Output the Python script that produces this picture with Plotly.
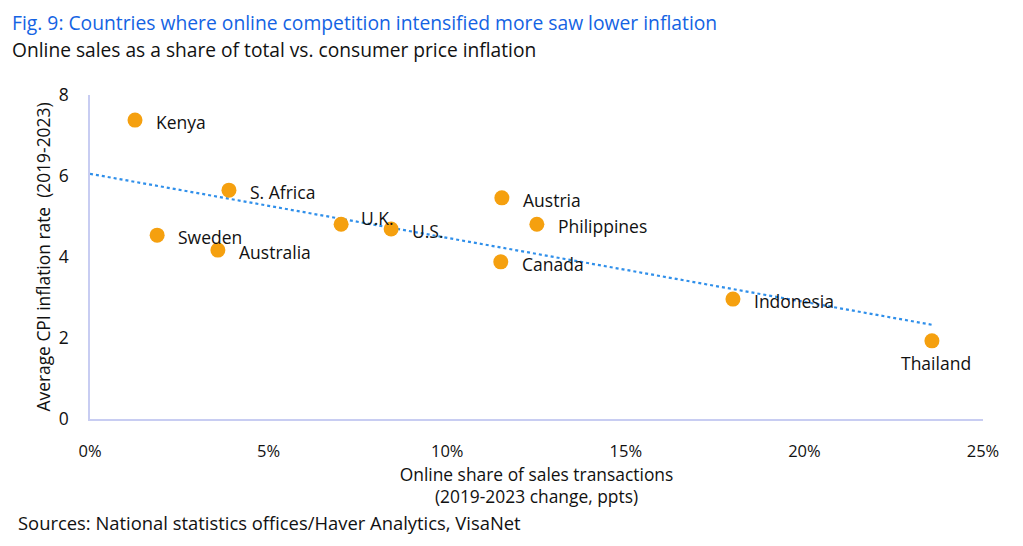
import numpy as np
import plotly.graph_objects as go

countries = ["Kenya", "S. Africa", "Sweden", "Australia", "U.K.", "U.S.",
             "Austria", "Philippines", "Canada", "Indonesia", "Thailand"]
online_share = [1.26, 3.89, 1.88, 3.58, 7.03, 8.43, 11.53, 12.51, 11.50, 18.00, 23.57]
cpi_inflation = [7.38, 5.65, 4.54, 4.17, 4.81, 4.69, 5.46, 4.81, 3.88, 2.96, 1.93]
x_ticks = [0, 5, 10, 15, 20, 25]
y_ticks = [0, 2, 4, 6, 8]

FONT = "Open Sans"
TXT = "#111111"
AXIS_COL = "#c8cdf2"

slope, intercept = np.polyfit(online_share, cpi_inflation, 1)
trend_x = np.array([0, max(online_share)])
trend_y = intercept + slope * trend_x

fig = go.Figure()
fig.add_trace(go.Scatter(x=trend_x, y=trend_y, mode="lines",
                         line=dict(color="#2f8fea", width=2.2, dash="dot"),
                         hoverinfo="skip", showlegend=False))
fig.add_trace(go.Scatter(x=online_share, y=cpi_inflation, mode="markers",
                         marker=dict(color="#f5a00f", size=15, line=dict(width=0)),
                         text=countries, showlegend=False))

annotations = []
for name, xv, yv in zip(countries, online_share, cpi_inflation):
    if name == "Thailand":
        annotations.append(dict(x=xv, y=yv, text=name, showarrow=False,
                                xanchor="center", yanchor="middle",
                                xshift=4, yshift=-22))
    elif name == "U.K.":
        annotations.append(dict(x=xv, y=yv, text=name, showarrow=False,
                                xanchor="left", yanchor="middle",
                                xshift=18, yshift=6))
    else:
        annotations.append(dict(x=xv, y=yv, text=name, showarrow=False,
                                xanchor="left", yanchor="middle",
                                xshift=19, yshift=-2))
for a in annotations:
    a["font"] = dict(family=FONT, size=17.5, color=TXT)

annotations += [
    dict(xref="paper", yref="paper", x=-80/893, y=1 + 72/324, xanchor="left", yanchor="middle",
         text="Fig. 9: Countries where online competition intensified more saw lower inflation",
         showarrow=False, font=dict(family=FONT, size=19.3, color="#1463e3")),
    dict(xref="paper", yref="paper", x=-80/893, y=1 + 46/324, xanchor="left", yanchor="middle",
         text="Online sales as a share of total vs. consumer price inflation",
         showarrow=False, font=dict(family=FONT, size=19.2, color=TXT)),
    dict(xref="paper", yref="paper", x=-74/893, y=-(522-419)/324, xanchor="left", yanchor="middle",
         text="Sources: National statistics offices/Haver Analytics, VisaNet",
         showarrow=False, font=dict(family=FONT, size=18.4, color=TXT)),
]

fig.update_layout(
    width=1023, height=546,
    margin=dict(l=90, r=40, t=95, b=127),
    paper_bgcolor="white", plot_bgcolor="white",
    font=dict(family=FONT, size=16, color=TXT),
    annotations=annotations,
    xaxis=dict(range=[0, 25], tickvals=x_ticks,
               ticktext=[f"{v}%" for v in x_ticks],
               showgrid=False, zeroline=False,
               showline=True, linecolor=AXIS_COL, linewidth=1.5,
               ticks="outside", ticklen=16, tickcolor="rgba(0,0,0,0)",
               tickfont=dict(size=16.5),
               title=dict(text="Online share of sales transactions<br>(2019-2023 change, ppts)",
                          font=dict(size=17.4), standoff=5)),
    yaxis=dict(range=[0, 8], tickvals=y_ticks,
               showgrid=False, zeroline=False,
               showline=True, linecolor=AXIS_COL, linewidth=1.5,
               ticks="outside", ticklen=16, tickcolor="rgba(0,0,0,0)",
               tickfont=dict(size=17.5),
               title=dict(text="Average CPI inflation rate  (2019-2023)",
                          font=dict(size=17.4), standoff=4)),
)

fig.write_html("out.html")
